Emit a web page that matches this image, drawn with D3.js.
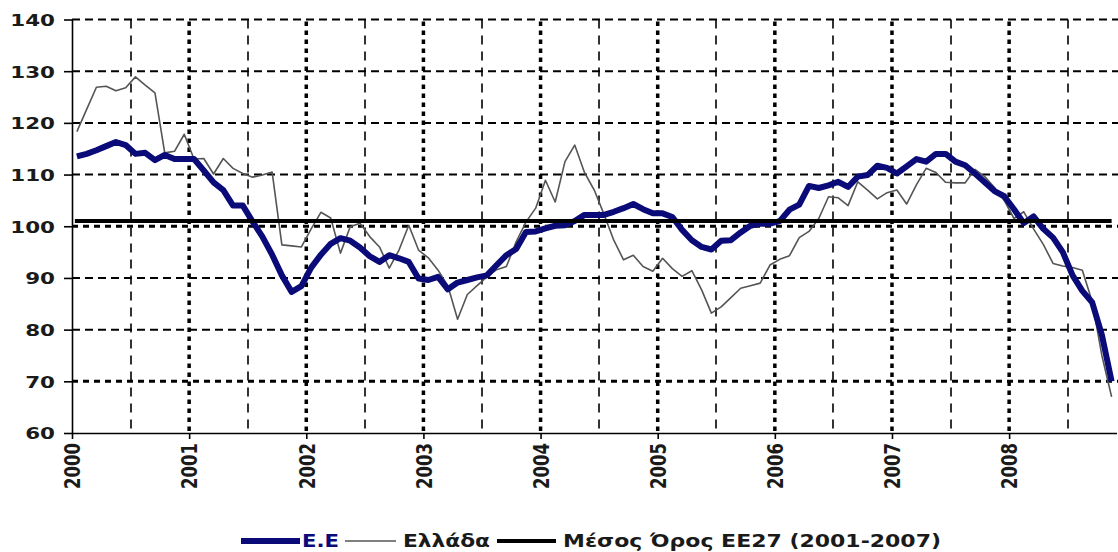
<!DOCTYPE html>
<html>
<head>
<meta charset="utf-8">
<script src="https://cdn.jsdelivr.net/npm/d3@7"></script>
<style>
  html, body { margin: 0; padding: 0; background: #fff; }
  svg { display: block; }
  text { font-family: "DejaVu Sans", Verdana, sans-serif; font-weight: bold; }
</style>
</head>
<body>
<svg id="chart" width="1118" height="552"></svg>
<script>
// ---- data (monthly, Jan 2000 .. Nov 2008) ----
const years = ["2000","2001","2002","2003","2004","2005","2006","2007","2008"];
const yTicks = [60,70,80,90,100,110,120,130,140];
const seriesNames = ["E.E", "Ελλάδα", "Μέσος Όρος ΕΕ27 (2001-2007)"];
const euValues = [
  113.5,114,114.7,115.5,116.3,115.7,114,114.2,112.8,113.8,113,113,
  113,110.8,108.5,107,104,104,100.9,98,94.5,90.5,87.3,88.4,
  92,94.5,96.6,97.7,97.2,95.9,94.2,93.1,94.4,93.8,93.1,89.9,
  89.6,90.2,87.8,89.1,89.6,90.1,90.5,92.5,94.4,95.6,98.9,99,
  99.6,100.1,100.2,101,102.2,102.2,102.2,102.8,103.5,104.3,103.3,102.5,
  102.5,101.8,99.3,97.3,96,95.5,97.2,97.3,98.8,100.1,100.5,100.5,
  101,103.2,104.2,107.8,107.4,107.9,108.6,107.6,109.6,109.9,111.7,111.3,
  110.2,111.6,113,112.5,114,114,112.5,111.8,110.2,108.5,106.8,105.8,
  103.3,100.6,101.9,99.5,97.8,95,90.5,87.5,85.3,79,70
];
const greeceValues = [
  118.3,122.6,126.9,127.1,126.2,126.8,128.9,127.3,125.8,114.2,114.5,117.8,
  113,113.1,110.1,113.1,111.2,110.2,109.5,109.9,110.5,96.4,96.2,96,
  99.5,102.7,101.6,94.8,99.9,100.6,98,96,91.9,95.4,100.2,95.4,
  93.9,91.5,88.5,82,86.8,88.5,90.2,91.6,92.2,97,100.8,103.5,
  108.9,104.7,112.5,115.7,110.4,107,102.3,97.3,93.5,94.4,92.2,91.3,
  93.8,91.8,90.3,91.4,87.7,83.2,84.4,86.2,88,88.5,89,92.5,
  93.6,94.3,97.8,99,101.5,105.7,105.5,104,108.6,107,105.3,106.5,
  107,104.3,108,111.2,110.4,108.5,108.4,108.4,111,109.6,107.5,105,
  101.5,102.8,99.5,96.5,92.8,92.3,92,91.5,85.5,75,67
];
const meanValue = 101;

// ---- layout ----
const svg = d3.select("#chart");
const nMonths = euValues.length;            // 107 categories
const plotL = 72, plotR = 1116.5, plotT = 19.5, plotB = 433;
const x = d3.scaleLinear().domain([0, nMonths]).range([plotL, plotR]);
const y = d3.scaleLinear().domain([60, 140]).range([plotB, plotT]);
const sx = 1.3; // horizontal stretch of the original raster text

// horizontal grid
const gGrid = svg.append("g").attr("class", "grid");
yTicks.filter(v => v > 60).forEach(v => {
  const dotted = (v === 100 || v === 70);
  gGrid.append("path")
    .attr("d", `M${plotL},${y(v)}H1120`)
    .attr("fill", "none")
    .attr("stroke", "#000")
    .attr("stroke-width", dotted ? 3 : 2)
    .attr("stroke-dasharray", dotted ? "6 5" : "8 5");
});
// vertical grid: Jul = thin dashed lines
d3.range(6, nMonths, 12).forEach(k => {
  gGrid.append("path")
    .attr("d", `M${Math.round(x(k))},${plotT}V${plotB}`)
    .attr("fill", "none")
    .attr("stroke", "#000")
    .attr("stroke-width", 1.6)
    .attr("stroke-dasharray", "9 7");
});
// vertical grid: Jan = heavy square dots
const dotYs = d3.range(plotT + 2, plotB - 2, 9);
d3.range(12, nMonths, 12).forEach(k => {
  const cx = x(k);
  gGrid.append("g").selectAll("rect").data(dotYs).join("rect")
    .attr("x", cx - 1.75).attr("width", 3.5)
    .attr("y", d => d).attr("height", 4.5)
    .attr("fill", "#000");
});

// axes
const yAxis = d3.axisLeft(y).tickValues(yTicks).tickSize(8).tickSizeOuter(0).tickPadding(4);
const gy = svg.append("g").attr("transform", `translate(${plotL},0)`).call(yAxis);
gy.select(".domain").attr("stroke", "#000").attr("stroke-width", 1.6);
gy.selectAll(".tick line").attr("stroke", "#000").attr("stroke-width", 1.6);
gy.selectAll(".tick text")
  .attr("x", 0).attr("dy", "0.36em")
  .attr("transform", `translate(-17,0) scale(${sx},1)`)
  .attr("fill", "#1a1a1a")
  .style("font-size", "16.5px");

const xAxis = d3.axisBottom(x)
  .tickValues(years.map((d, i) => i * 12))
  .tickFormat((d, i) => years[i])
  .tickSize(6).tickSizeOuter(0);
const gx = svg.append("g").attr("transform", `translate(0,${plotB})`).call(xAxis);
gx.select(".domain").attr("stroke", "#000").attr("stroke-width", 1.6);
gx.selectAll(".tick line").attr("stroke", "#000").attr("stroke-width", 1.6);
gx.selectAll(".tick text")
  .attr("x", 0).attr("y", 0).attr("dy", "0.36em")
  .attr("text-anchor", "end")
  .attr("transform", `translate(0,10) scale(${sx},1) rotate(-90)`)
  .attr("fill", "#1a1a1a")
  .style("font-size", "16.5px");

// lines
const line = d3.line().x((d, i) => x(i + 0.5)).y(d => y(d));
svg.append("path").datum(greeceValues)
  .attr("d", line).attr("fill", "none")
  .attr("stroke", "#555").attr("stroke-width", 1.6)
  .attr("stroke-linejoin", "round");
svg.append("path").datum(euValues)
  .attr("d", line).attr("fill", "none")
  .attr("stroke", "#0a0a78").attr("stroke-width", 6)
  .attr("stroke-linejoin", "round");
svg.append("line")
  .attr("x1", x(0.5) - 2).attr("x2", x(nMonths - 0.5))
  .attr("y1", y(meanValue)).attr("y2", y(meanValue))
  .attr("stroke", "#000").attr("stroke-width", 4);

// legend
const ly = 541;
const legend = svg.append("g");
const legendItems = [
  {name: seriesNames[0], x1: 241, x2: 300, color: "#0a0a78", w: 6, tx: 302, tw: 37, tc: "#0a0a78"},
  {name: seriesNames[1], x1: 345, x2: 396, color: "#555", w: 1.6, tx: 403, tw: 87, tc: "#1a1a1a"},
  {name: seriesNames[2], x1: 497, x2: 556, color: "#000", w: 4, tx: 563, tw: 378, tc: "#1a1a1a"}
];
legendItems.forEach(it => {
  legend.append("line").attr("x1", it.x1).attr("x2", it.x2)
    .attr("y1", ly).attr("y2", ly)
    .attr("stroke", it.color).attr("stroke-width", it.w);
  legend.append("text").attr("x", it.tx).attr("y", ly).attr("dy", "0.36em")
    .attr("textLength", it.tw).attr("lengthAdjust", "spacingAndGlyphs")
    .attr("fill", it.tc).style("font-size", "17px")
    .text(it.name);
});
</script>
</body>
</html>
